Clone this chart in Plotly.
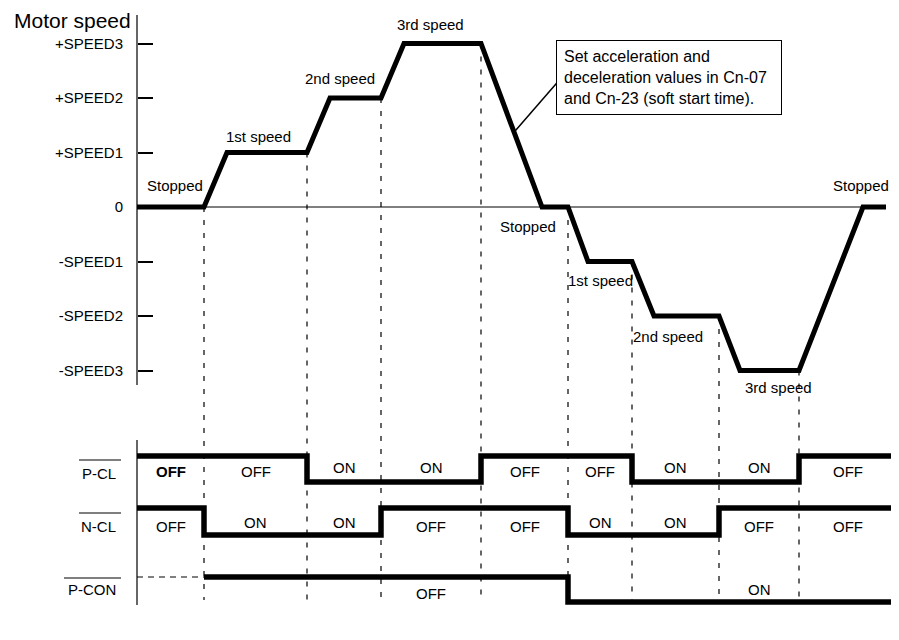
import plotly.graph_objects as go

FONT = "Liberation Sans, Arial, sans-serif"
PAGE_W, PAGE_H = 899, 640
PAGE_PAD = 8  # the page body margin shifts the figure by this much
W, H = PAGE_W - 2 * PAGE_PAD, PAGE_H - 2 * PAGE_PAD  # keep the figure inside the body

# speed axis
SPEED_LEVELS = [3, 2, 1, 0, -1, -2, -3]
SPEED_TICKS = ["+SPEED3", "+SPEED2", "+SPEED1", "0", "-SPEED1", "-SPEED2", "-SPEED3"]

# motor speed profile (time in arbitrary units, speed in levels)
PROFILE_T = [0, 67, 90, 170, 193, 244, 267, 344, 405, 431, 451, 495, 517, 582, 603, 662, 726, 749]
PROFILE_SPEED = [0, 0, 1, 1, 2, 2, 3, 3, 0, 0, -1, -1, -2, -2, -3, -3, 0, 0]

# switching instants and the speed at which each dashed marker starts
SWITCH_T = [67, 170, 244, 344, 431, 495, 582, 662]
SWITCH_SPEED = [0, 1, 2, 3, 0, -1, -2, -3]
END_T = 759

SPEED_LABELS = ["Stopped", "1st speed", "2nd speed", "3rd speed", "Stopped",
                "1st speed", "2nd speed", "3rd speed", "Stopped"]

# input signals (1 = high, 0 = low)
PCL_T = [0, 170, 344, 495, 662, 759]
PCL_LEVEL = [1, 0, 1, 0, 1, 1]
NCL_T = [0, 67, 244, 431, 582, 759]
NCL_LEVEL = [1, 0, 1, 0, 1, 1]
PCON_T = [67, 431, 759]
PCON_LEVEL = [1, 0, 0]
PCON_UNDEF_T = [0, 67]
PCON_UNDEF_LEVEL = [1, 1]

PCL_STATES = ["OFF", "OFF", "ON", "ON", "OFF", "OFF", "ON", "ON", "OFF"]
NCL_STATES = ["OFF", "ON", "ON", "OFF", "OFF", "ON", "ON", "OFF", "OFF"]
PCON_STATES = {3: "OFF", 7: "ON"}


def py(px):
    """page row -> paper fraction"""
    return 1 - (px - PAGE_PAD) / H


def px2x(px):
    """page column -> paper fraction"""
    return (px - PAGE_PAD) / W


def row_domain(high_px, low_px):
    d = (low_px - high_px) / 2
    return [py(low_px + d), py(high_px - d)]


# speed scale: level 0 at page row 207, 54.5 px per level
ZERO_PX, STEP_PX = 207, 54.5
def lvl(px):
    return (ZERO_PX - px) / STEP_PX


AXIS_PX = 137  # page column of time zero

fig = go.Figure()


def add_line(x, y, yaxis="y", width=5.0, dash=None, shape="linear"):
    fig.add_trace(go.Scatter(
        x=x, y=y, yaxis=yaxis, mode="lines",
        line=dict(color="black", width=width, dash=dash, shape=shape),
        hoverinfo="skip", showlegend=False,
    ))


# axes lines of the speed panel
add_line([0, PROFILE_T[-1]], [0, 0], width=1)
add_line([0, 0], [lvl(15), lvl(385)], width=1.2)

# dashed timing markers
for t, s in zip(SWITCH_T, SWITCH_SPEED):
    add_line([t, t], [s, lvl(600)], width=1.2, dash="5px,8px")

# speed profile
add_line(PROFILE_T, PROFILE_SPEED, width=5)

# signal frame lines
add_line([0, 0], [lvl(440), lvl(605)], width=1.2)
add_line([END_T, END_T], [lvl(457), lvl(PAGE_H)], width=1.2)

# signals
add_line(PCL_T, PCL_LEVEL, yaxis="y2", width=5.5, shape="hv")
add_line(NCL_T, NCL_LEVEL, yaxis="y3", width=5.5, shape="hv")
add_line(PCON_UNDEF_T, PCON_UNDEF_LEVEL, yaxis="y4", width=1, dash="6px,5px")
add_line(PCON_T, PCON_LEVEL, yaxis="y4", width=5.5, shape="hv")

annotations = []

# speed labels
label_pos = [(38, 0.39), (121, 1.30), (203, 2.35), (293, 3.34), (391, -0.35),
             (463, -1.34), (531, -2.37), (641, -3.32), (724, 0.39)]
for text, (x, y) in zip(SPEED_LABELS, label_pos):
    annotations.append(dict(x=x, y=y, xref="x", yref="y", text=text, showarrow=False,
                            xanchor="center", yanchor="middle",
                            font=dict(size=15, color="black", family=FONT)))

# signal state labels
bounds = [0] + SWITCH_T + [END_T]
mids = [(a + b) / 2 for a, b in zip(bounds[:-1], bounds[1:])]
for i, (m, st) in enumerate(zip(mids, PCL_STATES)):
    txt = "<b>OFF</b>" if i == 0 else st
    y = 0.55 if st == "ON" else 0.4
    annotations.append(dict(x=m, y=y, xref="x", yref="y2", text=txt, showarrow=False,
                            xanchor="center", yanchor="middle",
                            font=dict(size=15, color="black", family=FONT)))
for m, st in zip(mids, NCL_STATES):
    y = 0.45 if st == "ON" else 0.33
    annotations.append(dict(x=m, y=y, xref="x", yref="y3", text=st, showarrow=False,
                            xanchor="center", yanchor="middle",
                            font=dict(size=15, color="black", family=FONT)))
for i, st in PCON_STATES.items():
    y = 0.36 if st == "OFF" else 0.52
    annotations.append(dict(x=mids[i], y=y, xref="x", yref="y4", text=st, showarrow=False,
                            xanchor="center", yanchor="middle",
                            font=dict(size=15, color="black", family=FONT)))

# row labels with overbars
shapes = []
for text, cy, bar_y, bar_x0 in [("P-CL", 473, 460, 79), ("N-CL", 526, 513, 79),
                                ("P-CON", 589, 578, 64)]:
    annotations.append(dict(x=px2x(118), y=py(cy), xref="paper", yref="paper", text=text,
                            xanchor="right", yanchor="middle", showarrow=False,
                            font=dict(size=15, color="black", family=FONT)))
    shapes.append(dict(type="line", xref="paper", yref="paper", x0=px2x(bar_x0), x1=px2x(121),
                       y0=py(bar_y), y1=py(bar_y), line=dict(color="black", width=1.2)))

annotations.append(dict(x=px2x(12), y=py(20), xref="paper", yref="paper", text="Motor speed",
                        xanchor="left", yanchor="middle", showarrow=False,
                        font=dict(size=21, color="black", family=FONT)))

annotations.append(dict(
    x=px2x(556), y=py(40), xref="paper", yref="paper", xanchor="left", yanchor="top",
    text="Set acceleration and<br>deceleration values in Cn-07<br>and Cn-23 (soft start time).",
    align="left", showarrow=False, bordercolor="black", borderwidth=1, borderpad=7,
    bgcolor="white", width=210, font=dict(size=16, color="black", family=FONT),
))
shapes.append(dict(type="line", xref="x", yref="y", x0=377, y0=1.37, x1=420, y1=2.28,
                   line=dict(color="black", width=1.5)))

hidden = dict(visible=False, showgrid=False, zeroline=False, fixedrange=True)
x0_fig = AXIS_PX - PAGE_PAD

fig.update_layout(
    width=W, height=H,
    margin=dict(l=0, r=0, t=0, b=0),
    paper_bgcolor="white", plot_bgcolor="rgba(0,0,0,0)",
    font=dict(family=FONT, color="black"),
    showlegend=False,
    xaxis=dict(range=[-x0_fig, W - x0_fig], domain=[0, 1], **hidden),
    yaxis=dict(
        domain=[0, 1], range=[lvl(PAGE_PAD + H), lvl(PAGE_PAD)], anchor="free",
        position=px2x(AXIS_PX), side="left", showline=False, showgrid=False, zeroline=False,
        tickmode="array", tickvals=SPEED_LEVELS, ticktext=SPEED_TICKS,
        ticks="inside", ticklen=15, tickwidth=1.5, tickcolor="black",
        ticklabelstandoff=14, tickfont=dict(size=15, family=FONT, color="black"),
    ),
    yaxis2=dict(domain=row_domain(456, 482), range=[-0.5, 1.5], anchor="x", **hidden),
    yaxis3=dict(domain=row_domain(508, 535), range=[-0.5, 1.5], anchor="x", **hidden),
    yaxis4=dict(domain=row_domain(577, 602), range=[-0.5, 1.5], anchor="x", **hidden),
    annotations=annotations,
    shapes=shapes,
)

fig.write_html("out.html")
